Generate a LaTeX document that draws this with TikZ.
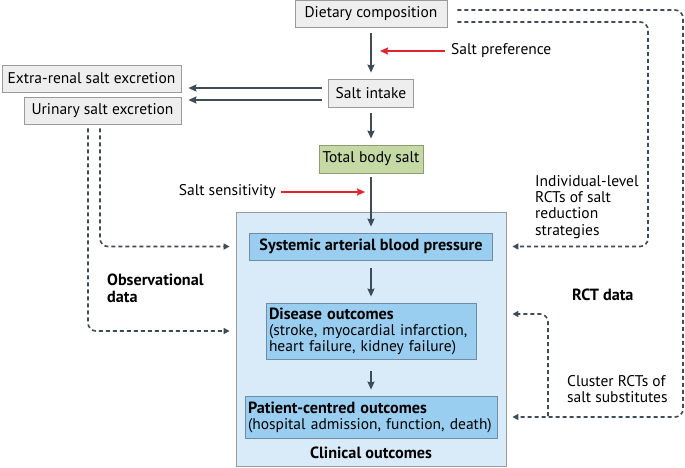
\documentclass[tikz,border=0pt]{standalone}
\usepackage{fontspec}
\setmainfont{PT Sans}
\usetikzlibrary{arrows.meta}
\definecolor{slate}{HTML}{3E4B58}
\definecolor{saltred}{HTML}{E3232C}
\definecolor{greybox}{HTML}{EEEEEE}
\definecolor{greyline}{HTML}{9A9A9A}
\definecolor{greenbox}{HTML}{C4D9A3}
\definecolor{greenline}{HTML}{8C9C74}
\definecolor{paleblue}{HTML}{D9EBF8}
\definecolor{midblue}{HTML}{99CEF0}
\definecolor{blueline}{HTML}{6F8CA2}
\newcommand{\txt}{\fontsize{15.5}{16}\selectfont}
\newcommand{\btxt}{\bfseries\fontsize{16.2}{16}\selectfont}
\tikzset{
  box/.style={draw=greyline, fill=greybox, line width=0.8pt, inner sep=0pt, font=\txt},
  outbox/.style={draw=blueline, fill=midblue, line width=0.8pt, inner sep=0pt, font=\txt},
  arr/.style={draw=slate, line width=1.8pt, -{Stealth[length=8pt,width=7pt,inset=1pt]}, shorten <=6pt, shorten >=6pt},
  redarr/.style={draw=saltred, line width=1.8pt, -{Stealth[length=8pt,width=7pt,inset=1pt]}},
  evid/.style={draw=slate, line width=1.6pt, dash pattern=on 4pt off 3pt, rounded corners=8pt, -{Triangle[length=6pt,width=6pt]}, shorten >=6pt},
  lbl/.style={font=\txt, align=left, inner sep=0pt}
}
\begin{document}
\begin{tikzpicture}[x=1pt, y=-1pt]
\useasboundingbox (0,0) rectangle (685,467);
% clinical outcomes frame
\node[draw=greyline, fill=paleblue, line width=0.8pt, minimum width=270pt, minimum height=254pt] (clin) at (371,339) {};
\node[font=\btxt] (cliname) at (371,453) {Clinical outcomes};
% boxes
\node[box, minimum width=152pt, minimum height=27pt] (diet) at (371,13.5) {Dietary composition};
\node[box, minimum width=85pt, minimum height=28pt] (intake) at (371,93) {Salt intake};
\node[box, minimum width=179pt, minimum height=27pt] (extra) at (91.5,78.5) {Extra-renal salt excretion};
\node[box, minimum width=157pt, minimum height=27pt] (urine) at (102.5,110.5) {Urinary salt excretion};
\node[box, draw=greenline, fill=greenbox, minimum width=104pt, minimum height=28pt] (total) at (371,159) {Total body salt};
\node[outbox, minimum width=243pt, minimum height=27pt, font=\btxt] (sys) at (371,246.5) {Systemic arterial blood pressure};
\node[outbox, minimum width=210pt, minimum height=56pt, align=left, text width=204pt] (dis) at (371,331) {{\btxt Disease outcomes}\\(stroke, myocardial infarction,\\heart failure, kidney failure)};
\node[outbox, minimum width=252pt, minimum height=42pt, align=left, text width=246pt] (pat) at (371,417) {{\btxt Patient-centred outcomes}\\(hospital admission, function, death)};
% side labels
\node[lbl, anchor=west] (pref) at (451,51) {Salt preference};
\node[lbl, anchor=east] (sens) at (276,192) {Salt sensitivity};
\node[lbl, anchor=north west, font=\bfseries\fontsize{16.2}{17}\selectfont] (obs) at (107,274) {Observational\\data};
\node[lbl, anchor=north west, font=\fontsize{15.5}{16.3}\selectfont] (indiv) at (535,175) {Individual-level\\RCTs of salt\\reduction\\strategies};
\node[lbl, anchor=west, font=\btxt] (rct) at (572,295) {RCT data};
\node[lbl, anchor=north west] (clust) at (567,375) {Cluster RCTs of\\salt substitutes};
% corners of the dashed routes
\coordinate (rout) at (683,10);
\coordinate (rin) at (648,22);
\coordinate (cl) at (548,416);
\coordinate (dtop) at (371,314);
% main chain
\path[arr] (diet) -- (intake);
\path[arr] (intake) -- (total);
\path[arr, shorten <=4pt] (total) -- (sys);
\path[arr, shorten <=8pt] (sys) -- (dis);
\path[arr, shorten <=12pt] (dis) -- (pat);
\path[arr, shorten >=7pt] ([yshift=5pt]intake.west) -- ([yshift=5pt]intake.west -| extra.east);
\path[arr, shorten >=7pt] ([yshift=-7pt]intake.west) -- ([yshift=-7pt]intake.west -| urine.east);
% modifiers
\path[redarr, shorten <=6pt, shorten >=9pt] (pref.west) -- (pref.west -| intake);
\path[redarr, shorten <=5pt, shorten >=6pt] (sens.east) -- (sens.east -| total);
% evidence
\path[evid, shorten <=4pt] ([xshift=-2.5pt]urine.south) |- (clin.west |- sys);
\path[evid, shorten <=4pt] ([xshift=-14.5pt]urine.south) |- (clin.west |- dis);
\path[evid, shorten <=10pt] (diet.east |- rin) -| (rin |- sys) -- (clin.east |- sys);
\path[evid, shorten <=10pt] (diet.east |- rout) -| (rout |- pat) -- (clin.east |- pat);
\path[evid] (cl) |- (clin.east |- dtop);
\end{tikzpicture}
\end{document}
